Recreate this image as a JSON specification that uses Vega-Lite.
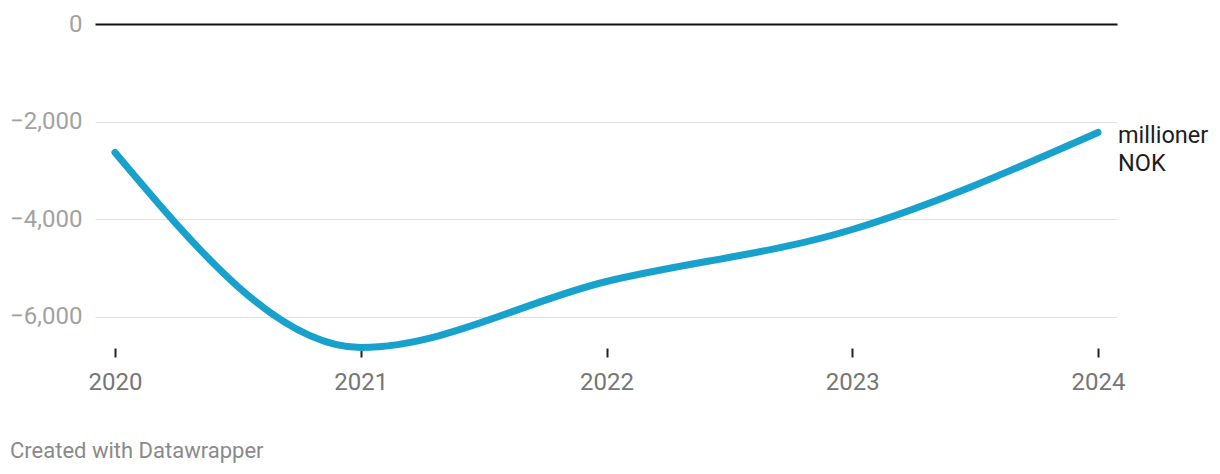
{
  "$schema": "https://vega.github.io/schema/vega-lite/v6.json",
  "autosize": {"type": "none"},
  "width": 1022,
  "height": 324,
  "padding": {"left": 95, "top": 24, "right": 103, "bottom": 126},
  "background": "white",
  "config": {
    "view": {"stroke": null},
    "font": "Roboto",
    "title": {"font": "Roboto"}
  },
  "title": {
    "text": "Created with Datawrapper",
    "orient": "bottom",
    "anchor": "start",
    "frame": "group",
    "dx": -85,
    "offset": 47,
    "fontSize": 22,
    "fontWeight": "normal",
    "color": "#8a8a8a",
    "baseline": "top"
  },
  "layer": [
    {
      "data": {"values": [
        {"year": 2020, "value": -2633},
        {"year": 2021, "value": -6629},
        {"year": 2022, "value": -5277},
        {"year": 2023, "value": -4211},
        {"year": 2024, "value": -2223}
      ]},
      "mark": {"type": "line", "interpolate": "monotone", "stroke": "#18a1cd", "strokeWidth": 7, "strokeCap": "round", "strokeJoin": "round", "clip": false},
      "encoding": {
        "x": {
          "field": "year", "type": "quantitative",
          "scale": {"domain": [2019.9186, 2024.0773], "nice": false, "zero": false},
          "axis": {
            "title": null, "values": [2020, 2021, 2022, 2023, 2024], "format": "d",
            "grid": false, "domain": false, "ticks": true, "tickSize": 9, "tickWidth": 2, "tickColor": "#222",
            "labelFontSize": 24, "labelColor": "#767676", "labelPadding": 13, "labelFont": "Roboto"
          }
        },
        "y": {
          "field": "value", "type": "quantitative",
          "scale": {"domain": [-6640, 0], "nice": false, "zero": false},
          "axis": {
            "title": null, "values": [-6000, -4000, -2000, 0], "format": ",d",
            "domain": false, "ticks": false, "grid": true,
            "gridColor": {"condition": {"test": "datum.value === 0", "value": "#111111"}, "value": "#e1e1e1"},
            "gridWidth": {"condition": {"test": "datum.value === 0", "value": 2}, "value": 1},
            "labelFontSize": 24, "labelColor": "#a2a2a2", "labelPadding": 13, "labelFont": "Roboto"
          }
        }
      }
    },
    {
      "data": {"values": [
        {"year": 2024, "value": -2223, "label": ["millioner", "NOK"]}
      ]},
      "mark": {"type": "text", "align": "left", "baseline": "alphabetic", "dx": 20, "dy": 11, "fontSize": 23.5, "lineHeight": 27.5, "color": "#1d1d1d", "font": "Roboto"},
      "encoding": {
        "x": {"field": "year", "type": "quantitative"},
        "y": {"field": "value", "type": "quantitative"},
        "text": {"field": "label"}
      }
    }
  ]
}
